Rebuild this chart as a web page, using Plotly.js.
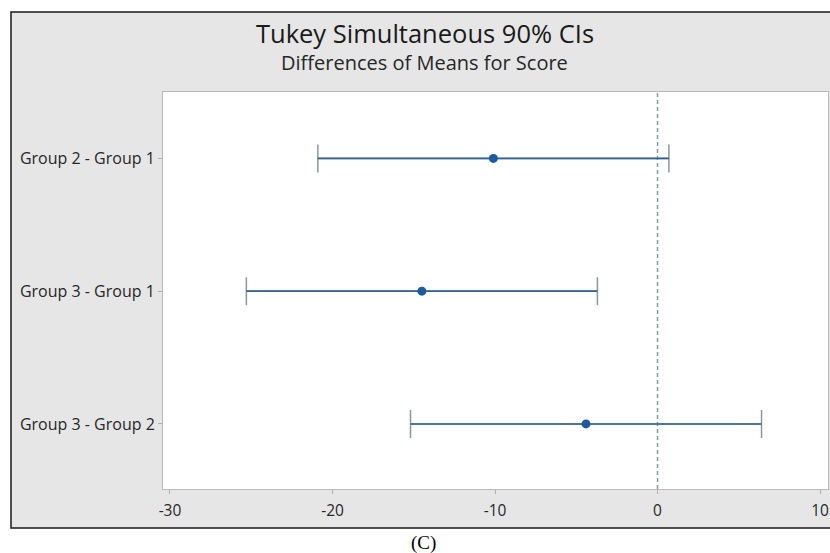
<!DOCTYPE html>
<html>
<head>
<meta charset="utf-8">
<script src="https://cdn.plot.ly/plotly-3.0.1.min.js"></script>
<style>
  html, body { margin: 0; padding: 0; background: #ffffff; }
  #chart { width: 830px; height: 553px; }
</style>
</head>
<body>
<div id="chart"></div>
<script>
// ---- data ----
const comparisons = ['Group 2 - Group 1', 'Group 3 - Group 1', 'Group 3 - Group 2'];
const meanDiffs = [-10.1, -14.5, -4.4];
const lowerCI = [-20.9, -25.3, -15.2];
const upperCI = [0.7, -3.7, 6.4];
const xTickValues = [-30, -20, -10, 0, 10];
const chartTitle = 'Tukey Simultaneous 90% CIs';
const chartSubtitle = 'Differences of Means for Score';
const caption = '(C)';

// ---- build traces ----
const errPlus = meanDiffs.map((m, i) => upperCI[i] - m);
const errMinus = meanDiffs.map((m, i) => m - lowerCI[i]);

const capTrace = {
  type: 'scatter', mode: 'markers',
  x: meanDiffs, y: comparisons,
  marker: { color: 'rgba(0,0,0,0)', size: 1 },
  error_x: {
    type: 'data', symmetric: false,
    array: errPlus, arrayminus: errMinus,
    color: '#8d969f', thickness: 1.5, width: 14
  },
  hoverinfo: 'skip', showlegend: false
};

const segX = [], segY = [];
comparisons.forEach((c, i) => {
  segX.push(lowerCI[i], upperCI[i], null);
  segY.push(c, c, null);
});
const lineTrace = {
  type: 'scatter', mode: 'lines',
  x: segX, y: segY,
  line: { color: '#2f6394', width: 1.6 },
  hoverinfo: 'skip', showlegend: false
};

const pointTrace = {
  type: 'scatter', mode: 'markers',
  x: meanDiffs, y: comparisons,
  marker: { color: '#1d5aa0', size: 9 },
  showlegend: false
};

// ---- layout geometry (pixels) ----
const W = 830, H = 553;
const plotL = 163, plotR = 828, plotT = 92, plotB = 489;
const pw = plotR - plotL, ph = plotB - plotT;
const px = v => (v - plotL) / pw;
const py = v => (plotB - v) / ph;

const layout = {
  width: W, height: H,
  margin: { l: plotL, r: W - plotR, t: plotT, b: H - plotB, pad: 0 },
  paper_bgcolor: '#ffffff',
  plot_bgcolor: '#ffffff',
  font: { family: '"Open Sans", "Noto Sans", sans-serif', color: '#262626' },
  title: {
    text: chartTitle,
    font: { family: '"Open Sans", "Noto Sans", sans-serif', size: 25.5, color: '#1a1a1a' },
    xref: 'paper', x: px(425), xanchor: 'center',
    yref: 'container', y: 1 - 43 / H, yanchor: 'bottom'
  },
  xaxis: {
    range: [-30.43, 10.49],
    tickvals: xTickValues,
    ticktext: xTickValues.map(String),
    showgrid: false, zeroline: false,
    showline: true, mirror: true, linecolor: '#b9b9b9', linewidth: 1,
    ticks: 'outside', ticklen: 4, tickcolor: '#b0b0b0',
    ticklabelstandoff: 3,
    tickfont: { size: 15.5, color: '#262626' },
    fixedrange: true
  },
  yaxis: {
    type: 'category',
    categoryorder: 'array', categoryarray: comparisons,
    range: [2.49, -0.5],
    showgrid: false, zeroline: false,
    showline: true, mirror: true, linecolor: '#b9b9b9', linewidth: 1,
    ticks: 'outside', ticklen: 4, tickcolor: '#b0b0b0',
    tickfont: { size: 16, color: '#262626' },
    fixedrange: true
  },
  shapes: [
    { type: 'rect', layer: 'below', xref: 'paper', yref: 'paper',
      x0: px(11), x1: px(920), y0: py(528), y1: py(12),
      fillcolor: '#e6e6e6', line: { color: '#1a1a1a', width: 1.5 } },
    { type: 'rect', layer: 'below', xref: 'paper', yref: 'paper',
      x0: 0, x1: 1, y0: 0, y1: 1,
      fillcolor: '#ffffff', line: { width: 0 } },
    { type: 'line', layer: 'below', xref: 'x', yref: 'paper',
      x0: 0, x1: 0, y0: 0, y1: 1,
      line: { color: '#7f9f9c', width: 1.5, dash: '4px,3px' } }
  ],
  annotations: [
    { text: chartSubtitle, xref: 'paper', yref: 'paper',
      x: px(424), y: py(78), xanchor: 'center', yanchor: 'bottom',
      showarrow: false,
      font: { family: '"Open Sans", "Noto Sans", sans-serif', size: 20, color: '#262626' } },
    { text: caption, xref: 'paper', yref: 'paper',
      x: px(423), y: py(556), xanchor: 'center', yanchor: 'bottom',
      showarrow: false,
      font: { family: '"Liberation Serif", "Times New Roman", serif', size: 19, color: '#000000' } }
  ],
  showlegend: false
};

Plotly.newPlot('chart', [capTrace, lineTrace, pointTrace], layout,
  { displayModeBar: false, staticPlot: true });
</script>
</body>
</html>
